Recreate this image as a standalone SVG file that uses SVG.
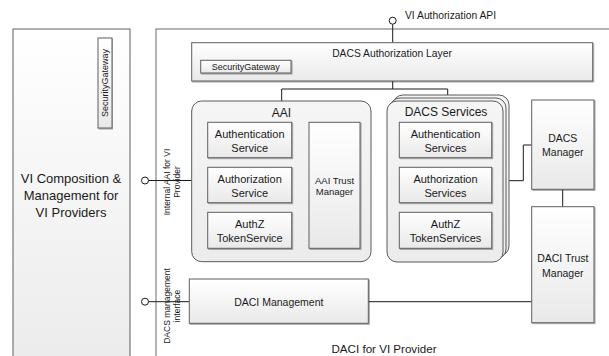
<svg xmlns="http://www.w3.org/2000/svg" width="609" height="356" viewBox="0 0 609 356">
  <defs>
    <linearGradient id="boxFill" x1="0" y1="0" x2="0" y2="1">
      <stop offset="0" stop-color="#ffffff"/>
      <stop offset="1" stop-color="#e9e9e9"/>
    </linearGradient>
    <linearGradient id="tallFill" x1="0" y1="0" x2="0" y2="1">
      <stop offset="0" stop-color="#ffffff"/>
      <stop offset="1" stop-color="#ebebeb"/>
    </linearGradient>
    <linearGradient id="groupFill" x1="0" y1="0" x2="0" y2="1">
      <stop offset="0" stop-color="#f5f5f5"/>
      <stop offset="1" stop-color="#ececec"/>
    </linearGradient>
    <filter id="shadow" x="-5%" y="-5%" width="110%" height="115%">
      <feDropShadow dx="1" dy="1" stdDeviation="0.6" flood-color="#000" flood-opacity="0.35"/>
    </filter>
  </defs>
  <style>
    .box { fill: url(#boxFill); stroke: #5f5f5f; stroke-width: 1; filter: url(#shadow); }
    .tall { fill: url(#tallFill); stroke: #5f5f5f; stroke-width: 1; }
    .grp { fill: url(#groupFill); stroke: #5a5a5a; stroke-width: 1; }
    .frame { fill: #ffffff; stroke: #6a6a6a; stroke-width: 1; }
    .wire { fill: none; stroke: #1a1a1a; stroke-width: 1; }
    .port { fill: #ffffff; stroke: #1a1a1a; stroke-width: 1; }
    text { font-family: "Liberation Sans", Arial, sans-serif; fill: #1a1a1a; text-anchor: middle; }
    .t11 { font-size: 11px; }
    .t10 { font-size: 10.3px; }
    .t9 { font-size: 9px; }
    .side { font-size: 8.5px; }
    .title { font-size: 12px; }
    .big { font-size: 13px; }
  </style>

  <!-- outer containers -->
  <g id="vi-composition">
    <rect class="tall" x="13" y="29" width="117" height="340"/>
    <text class="big" x="71" y="182.5">VI Composition &amp;</text>
    <text class="big" x="71" y="199.5">Management for</text>
    <text class="big" x="71" y="216.5">VI Providers</text>
  </g>
  <g id="vi-security-gateway">
    <rect class="box" x="98" y="38" width="14" height="90"/>
    <text class="t9" transform="translate(108.2 83) rotate(-90)">SecurityGateway</text>
  </g>

  <g id="daci-provider">
    <rect class="frame" x="156" y="29" width="470" height="340"/>
    <text x="384" y="353" style="font-size:11.6px">DACI for VI Provider</text>
    <text class="side" transform="translate(170 182) rotate(-90)">Internal AAI for VI</text>
    <text class="side" transform="translate(180 182) rotate(-90)">Provider</text>
    <text class="side" transform="translate(170 306) rotate(-90)">DACS management</text>
    <text class="side" transform="translate(180 306) rotate(-90)">interface</text>
  </g>

  <!-- connectors -->
  <g id="connectors">
    <line class="wire" x1="392.7" y1="24.2" x2="392.7" y2="42.7"/>
    <polyline class="wire" points="392.7,81 392.7,89 281.7,89 281.7,101"/>
    <polyline class="wire" points="392.7,89 447.7,89 447.7,95"/>
    <line class="wire" x1="148.5" y1="180.5" x2="191.7" y2="180.5"/>
    <line class="wire" x1="148.5" y1="301.7" x2="189.3" y2="301.7"/>
    <line class="wire" x1="368.3" y1="301.7" x2="531.7" y2="301.7"/>
    <polyline class="wire" points="509,180.7 523.3,180.7 523.3,145 531.7,145"/>
    <line class="wire" x1="562.7" y1="189.3" x2="562.7" y2="206.7"/>
  </g>

  <g id="vi-authorization-api">
    <circle class="port" cx="392.7" cy="20.7" r="3.5"/>
    <text class="t10" x="405" y="19" style="text-anchor:start">VI Authorization API</text>
  </g>
  <g id="port-aai">
    <circle class="port" cx="145" cy="180.5" r="3.5"/>
  </g>
  <g id="port-mgmt">
    <circle class="port" cx="145" cy="301.7" r="3.5"/>
  </g>

  <g id="dacs-authorization-layer">
    <rect class="box" x="191.7" y="42.7" width="401" height="38.3"/>
    <text class="t10" x="392" y="57">DACS Authorization Layer</text>
  </g>
  <g id="layer-security-gateway">
    <rect class="box" x="200.7" y="60.3" width="90.3" height="12.7"/>
    <text class="t9" x="245.8" y="70">SecurityGateway</text>
  </g>

  <!-- AAI group -->
  <g id="aai">
    <rect class="grp" x="191.7" y="101" width="179.3" height="160.7" rx="10" ry="10"/>
    <text class="title" x="281.5" y="117">AAI</text>
  </g>
  <g id="aai-authentication">
    <rect class="box" x="207.7" y="122.3" width="84" height="35.4"/>
    <text class="t11" x="249.7" y="137.5">Authentication</text>
    <text class="t11" x="249.7" y="151.5">Service</text>
  </g>
  <g id="aai-authorization">
    <rect class="box" x="207.7" y="167.3" width="84" height="35.4"/>
    <text class="t11" x="249.7" y="182.5">Authorization</text>
    <text class="t11" x="249.7" y="196.5">Service</text>
  </g>
  <g id="aai-token">
    <rect class="box" x="207.7" y="212.3" width="84" height="36"/>
    <text class="t11" x="249.7" y="227.5">AuthZ</text>
    <text class="t11" x="249.7" y="241.5">TokenService</text>
  </g>
  <g id="aai-trust-manager">
    <rect class="box" x="309" y="122.3" width="51" height="126"/>
    <text x="334.5" y="183.5" style="font-size:9.5px">AAI Trust</text>
    <text x="334.5" y="195" style="font-size:9.5px">Manager</text>
  </g>

  <!-- DACS Services (stacked) -->
  <g id="dacs-services">
    <rect class="grp" x="393" y="95" width="116" height="161" rx="10" ry="10"/>
    <rect class="grp" x="390" y="98" width="116" height="161" rx="10" ry="10"/>
    <rect class="grp" x="387" y="101" width="116" height="161" rx="10" ry="10"/>
    <text class="title" x="446" y="116">DACS Services</text>
  </g>
  <g id="dacs-authentication">
    <rect class="box" x="399.3" y="122.3" width="92.4" height="35.4"/>
    <text class="t11" x="445.5" y="137.5">Authentication</text>
    <text class="t11" x="445.5" y="151.5">Services</text>
  </g>
  <g id="dacs-authorization">
    <rect class="box" x="399.3" y="167.3" width="92.4" height="35.4"/>
    <text class="t11" x="445.5" y="182.5">Authorization</text>
    <text class="t11" x="445.5" y="196.5">Services</text>
  </g>
  <g id="dacs-token">
    <rect class="box" x="399.3" y="212.3" width="92.4" height="36"/>
    <text class="t11" x="445.5" y="227.5">AuthZ</text>
    <text class="t11" x="445.5" y="241.5">TokenServices</text>
  </g>

  <g id="dacs-manager">
    <rect class="box" x="531.7" y="100" width="62.3" height="89.3"/>
    <text x="562.8" y="142" style="font-size:10.5px">DACS</text>
    <text x="562.8" y="156" style="font-size:10.5px">Manager</text>
  </g>
  <g id="daci-trust-manager">
    <rect class="box" x="531.7" y="206.7" width="62.3" height="116"/>
    <text x="562.8" y="262" style="font-size:10.5px">DACI Trust</text>
    <text x="562.8" y="277" style="font-size:10.5px">Manager</text>
  </g>
  <g id="daci-management">
    <rect class="box" x="189.3" y="279" width="179" height="44.3"/>
    <text x="278.8" y="305.5" style="font-size:10.5px">DACI Management</text>
  </g>
</svg>
